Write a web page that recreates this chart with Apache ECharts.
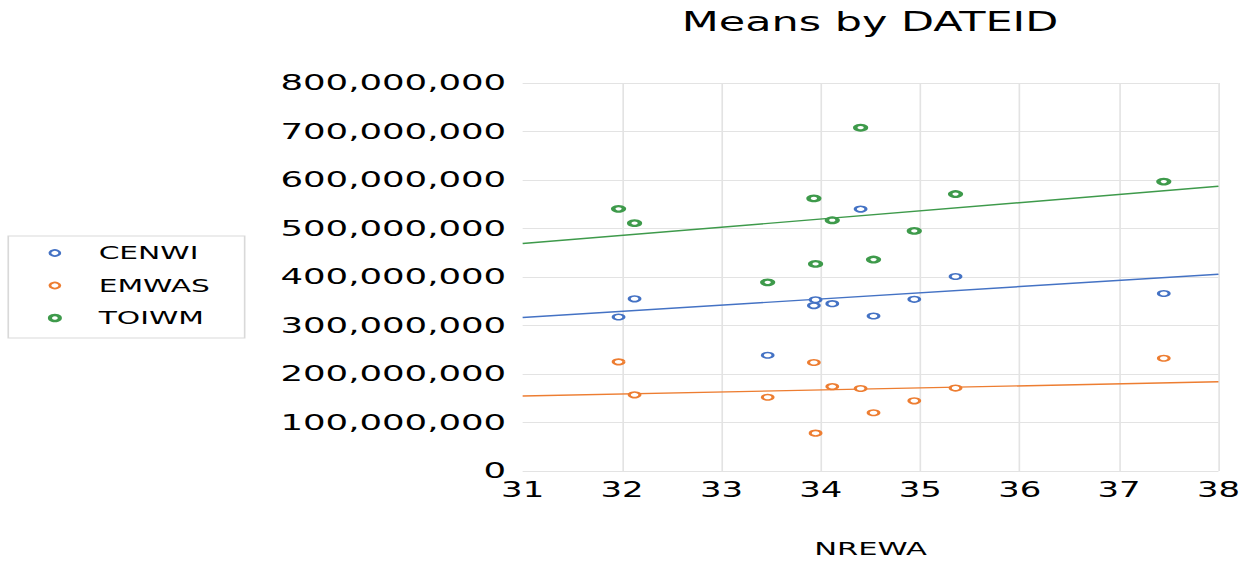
<!DOCTYPE html>
<html>
<head>
<meta charset="utf-8">
<script src="https://cdn.jsdelivr.net/npm/echarts@6/dist/echarts.min.js"></script>
<style>
  html, body { margin: 0; padding: 0; background: #fff; overflow: hidden; }
  #chart { width: 759px; height: 563px; transform: scaleX(1.6508); transform-origin: 0 0; }
</style>
</head>
<body>
<div id="chart"></div>
<script>
// ---- data (x = NREWA, y = mean values in millions) ----
const xValues = [31.965, 32.126, 33.465, 33.93, 33.947, 34.115, 34.40, 34.53, 34.94, 35.355, 37.45];
const CENWI = [317.5, 355, 238.7, 341, 353, 345, 540, 319.6, 354, 401, 366];
const EMWAS = [225, 157, 152, 223.6, 78, 174, 170, 120, 144.7, 171, 232.5];
const TOIWM = [540.5, 511, 389, 562, 427, 517, 707.8, 436, 495, 571, 596.7];
const seriesNames = ['CENWI', 'EMWAS', 'TOIWM'];
const seriesValues = [CENWI, EMWAS, TOIWM];
const colors = ['#4472C4', '#ED7D31', '#3E9A4B'];
const xMin = 31, xMax = 38, yMax = 800000000, yStep = 100000000;

function pairs(ys) { return xValues.map((x, i) => [x, ys[i] * 1e6]); }
function trend(ys) {
  const n = xValues.length;
  const mx = xValues.reduce((a, b) => a + b, 0) / n;
  const my = ys.reduce((a, b) => a + b, 0) / n;
  let sxy = 0, sxx = 0;
  for (let i = 0; i < n; i++) { sxy += (xValues[i] - mx) * (ys[i] - my); sxx += (xValues[i] - mx) ** 2; }
  const b = sxy / sxx, a = my - b * mx;
  return [[xMin, (a + b * xMin) * 1e6], [xMax, (a + b * xMax) * 1e6]];
}

const series = [];
seriesNames.forEach((name, k) => {
  series.push({
    name: name, type: 'scatter', data: pairs(seriesValues[k]),
    symbol: 'circle', symbolSize: [6.5, 5.5],
    itemStyle: { color: '#ffffff', borderColor: colors[k], borderWidth: k === 2 ? 2.5 : 1.7, opacity: 1 },
    z: 3
  });
});
seriesNames.forEach((name, k) => {
  series.push({
    name: name + ' trend', type: 'line', data: trend(seriesValues[k]),
    showSymbol: false, silent: true,
    lineStyle: { color: colors[k], width: 1.4 }, z: 2
  });
});

const font = 'DejaVu Sans';
const chart = echarts.init(document.getElementById('chart'), null, { renderer: 'svg' });
chart.setOption({
  animation: false,
  backgroundColor: '#fff',
  title: {
    text: 'Means by DATEID', left: 408, top: 4,
    textStyle: { fontFamily: font, fontSize: 26, fontWeight: 'normal', color: '#000' }
  },
  legend: {
    data: seriesNames.map((n, k) => ({ name: n, icon: 'circle',
      itemStyle: { color: '#fff', borderColor: colors[k], borderWidth: k === 2 ? 2.5 : 1.7 } })),
    orient: 'vertical', left: 5, top: 236,
    padding: [7, 21, 10, 24], itemGap: 12.5,
    itemWidth: 7, itemHeight: 6,
    borderColor: '#d9d9d9', borderWidth: 1,
    textStyle: { fontFamily: font, fontSize: 18, color: '#000', lineHeight: 20, padding: [0, 0, 0, 18] }
  },
  grid: { left: 316.6, right: 20.9, top: 83, bottom: 91, containLabel: false },
  xAxis: {
    type: 'value', min: xMin, max: xMax, interval: 1,
    name: 'NREWA', nameLocation: 'middle', nameGap: 68,
    nameTextStyle: { fontFamily: font, fontSize: 18.5, color: '#000' },
    axisLine: { show: false }, axisTick: { show: false },
    axisLabel: { fontFamily: font, fontSize: 20.5, color: '#000', margin: 9 },
    splitLine: { show: true, showMinLine: false, lineStyle: { color: '#e3e3e3', width: 1 } }
  },
  yAxis: {
    type: 'value', min: 0, max: yMax, interval: yStep,
    axisLine: { show: false }, axisTick: { show: false },
    axisLabel: { fontFamily: font, fontSize: 21.5, color: '#000', margin: 10,
      formatter: v => Math.round(v).toLocaleString('en-US') },
    splitLine: { show: true, lineStyle: { color: '#e3e3e3', width: 1 } }
  },
  series: series
});
</script>
</body>
</html>
